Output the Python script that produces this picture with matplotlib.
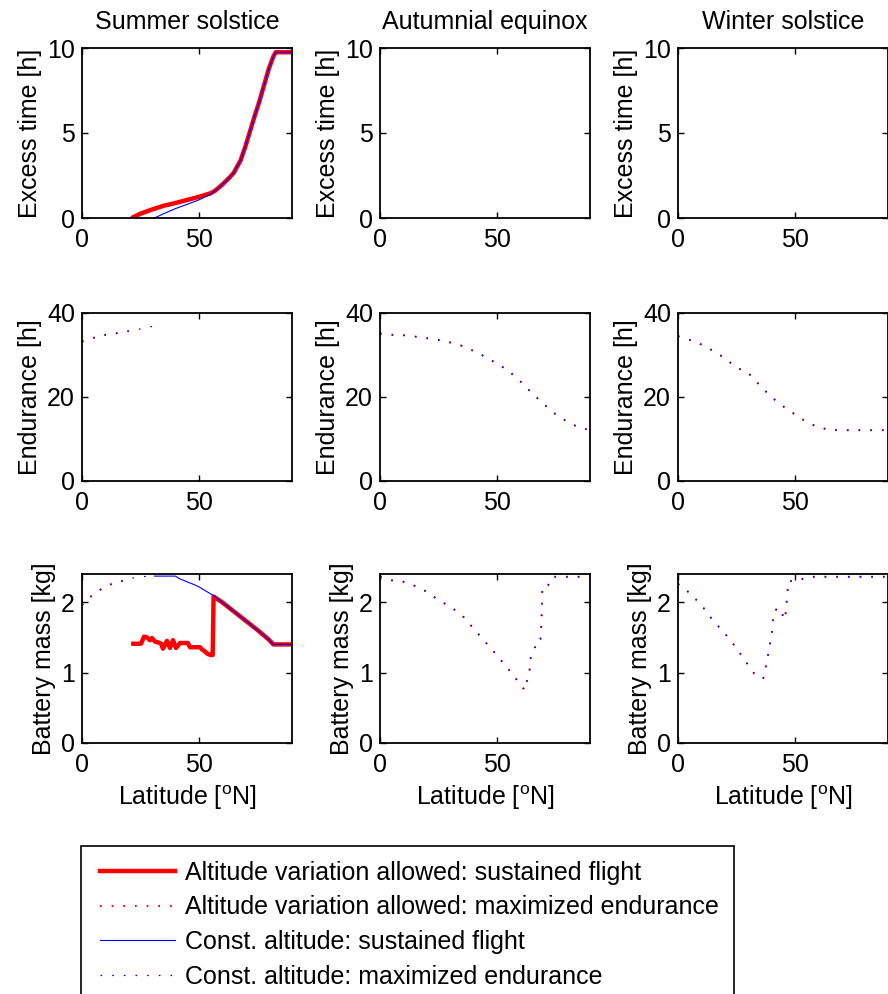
import numpy as np
import matplotlib
matplotlib.use("Agg")
import matplotlib.pyplot as plt
from matplotlib.legend_handler import HandlerLine2D

plt.rcParams['font.family'] = ['Liberation Sans', 'DejaVu Sans']
plt.rcParams['mathtext.fontset'] = 'custom'
plt.rcParams['mathtext.rm'] = 'Liberation Sans'

seasons = ["Summer solstice", "Autumnial equinox", "Winter solstice"]

# --- Summer solstice ---
sum_exc_alt_x = [22, 25, 30, 35, 40, 45, 50, 55, 57, 60, 63, 65, 68, 70, 72, 74, 76, 78, 80, 82, 83, 84, 90]
sum_exc_alt_y = [0.05, 0.25, 0.5, 0.72, 0.88, 1.06, 1.24, 1.45, 1.6, 1.95, 2.35, 2.65, 3.4, 4.2, 5.1, 6.0,
                 6.85, 7.8, 8.75, 9.5, 9.75, 9.75, 9.75]
sum_exc_const_x = [31, 35, 40, 45, 50, 55, 57, 60, 63, 65, 68, 70, 72, 74, 76, 78, 80, 82, 83, 84, 90]
sum_exc_const_y = [0.0, 0.25, 0.55, 0.8, 1.06, 1.38, 1.6, 1.95, 2.35, 2.65, 3.4, 4.2, 5.1, 6.0,
                   6.85, 7.8, 8.75, 9.5, 9.75, 9.75, 9.75]

sum_end_alt_x = [0, 5, 10, 15, 20]
sum_end_alt_y = [33.2, 34.1, 34.8, 35.2, 35.7]
sum_end_const_x = [0, 5, 10, 15, 20, 25, 30]
sum_end_const_y = [33.2, 34.1, 34.8, 35.2, 35.7, 36.2, 36.8]

sum_bat_alt_x = [22, 25.3, 26.6, 27.9, 29.1, 30, 31.3, 32.6, 33.9, 34.7, 36.4, 37.7, 39, 40.3, 42, 45.4,
                 46.3, 50.6, 51.4, 52.7, 53.6, 55, 56, 56.4, 60, 65, 70, 75, 80, 82, 90]
sum_bat_alt_y = [1.41, 1.41, 1.51, 1.50, 1.46, 1.49, 1.44, 1.43, 1.41, 1.34, 1.45, 1.35, 1.46, 1.35, 1.42,
                 1.42, 1.36, 1.36, 1.33, 1.30, 1.27, 1.25, 1.25, 2.08, 2.0, 1.87, 1.74, 1.61, 1.47, 1.40, 1.40]
sum_bat_const_x = [31, 40, 42, 45, 48, 50, 52, 55, 57, 60, 65, 70, 75, 80, 82, 90]
sum_bat_const_y = [2.37, 2.37, 2.33, 2.29, 2.25, 2.22, 2.18, 2.12, 2.08, 2.0, 1.87, 1.74, 1.61, 1.47, 1.40, 1.40]
sum_bat_end_alt_x = [0, 3, 7, 11, 15, 19, 21]
sum_bat_end_alt_y = [1.96, 2.06, 2.16, 2.24, 2.28, 2.32, 2.34]
sum_bat_end_const_x = [0, 3, 7, 11, 15, 19, 24, 30]
sum_bat_end_const_y = [1.96, 2.06, 2.16, 2.24, 2.28, 2.32, 2.36, 2.37]

# --- Autumnal equinox ---
aut_end_x = [0, 5, 10, 15, 20, 25, 30, 35, 40, 45, 50, 55, 60, 65, 70, 75, 80, 85, 90]
aut_end_y = [35.1, 34.8, 34.7, 34.4, 34.0, 33.6, 33.0, 32.2, 31.0, 29.6, 28.0, 26.3, 23.8, 21.0, 18.4,
             16.0, 14.2, 12.8, 12.1]
aut_bat_x = [0, 5, 10, 15, 20, 25, 30, 35, 40, 45, 50, 55, 60, 62, 63, 64.3, 64.6, 66.4, 68.6, 69.0, 69.2,
             69.4, 69.6, 72, 74, 90]
aut_bat_y = [2.36, 2.31, 2.29, 2.23, 2.15, 2.03, 1.94, 1.82, 1.63, 1.44, 1.25, 1.05, 0.84, 0.75, 0.88,
             1.07, 1.22, 1.36, 1.40, 1.58, 1.73, 1.95, 2.22, 2.24, 2.36, 2.36]

# --- Winter solstice ---
win_end_x = [0, 5, 10, 15, 20, 25, 30, 35, 40, 45, 50, 55, 60, 65, 70, 80, 90]
win_end_y = [34.5, 33.6, 32.5, 31.0, 29.3, 27.0, 25.8, 22.8, 20.0, 17.8, 15.9, 14.1, 12.8, 12.2, 12.1, 12.1, 12.1]
win_bat_x = [0, 5, 10, 15, 20, 25, 30, 33, 35, 36.5, 37.7, 38.6, 39.4, 40.2, 40.6, 41.6, 44.1, 45.4, 46,
             46.7, 47.3, 49.3, 52.3, 56.6, 90]
win_bat_y = [2.26, 2.13, 1.96, 1.74, 1.56, 1.35, 1.11, 0.97, 0.93, 0.92, 1.09, 1.25, 1.40, 1.56, 1.72,
             1.89, 1.91, 1.75, 1.80, 2.05, 2.30, 2.30, 2.32, 2.36, 2.36]

ylabels = ["Excess time [h]", "Endurance [h]", "Battery mass [kg]"]
ylims = [(0, 10), (0, 40), (0, 2.4)]
yticks = [[0, 5, 10], [0, 20, 40], [0, 1, 2]]

fig = plt.figure(figsize=(8.88, 9.94), dpi=100)
W, H = 888.0, 994.0
lefts = [82, 380, 678]
rows = [(48, 218), (313, 481), (574, 743)]

axes = [[None] * 3 for _ in range(3)]
for r, (top, bot) in enumerate(rows):
    for c, lx in enumerate(lefts):
        ax = fig.add_axes([lx / W, 1 - bot / H, 210 / W, (bot - top) / H])
        ax.set_xlim(0, 90)
        ax.set_ylim(*ylims[r])
        ax.set_xticks([0, 50])
        ax.set_yticks(yticks[r])
        ax.tick_params(direction='in', top=True, right=True, length=4, width=1,
                       labelsize=18, pad=5)
        ax.tick_params(axis='x', pad=7)
        for s in ax.spines.values():
            s.set_linewidth(1.3)
        ax.set_ylabel(ylabels[r], fontsize=18, labelpad=4)
        if r == 0:
            ax.set_title(seasons[c], fontsize=18, pad=14)
        if r == 2:
            ax.set_xlabel(r"Latitude [$^{\mathrm{o}}$N]", fontsize=18, labelpad=5)
        axes[r][c] = ax

red_dot = dict(color='red', lw=1.5, dashes=(0.8, 4.8))
blue_dot = dict(color='blue', lw=0.9, dashes=(1.33, 8.0))

# summer
ax = axes[0][0]
h1, = ax.plot(sum_exc_alt_x, sum_exc_alt_y, color='red', lw=3.2)
h3, = ax.plot(sum_exc_const_x, sum_exc_const_y, color='blue', lw=0.8)
ax = axes[1][0]
h2, = ax.plot(sum_end_alt_x, sum_end_alt_y, **red_dot)
h4, = ax.plot(sum_end_const_x, sum_end_const_y, **blue_dot)
ax = axes[2][0]
ax.plot(sum_bat_end_alt_x, sum_bat_end_alt_y, **red_dot)
ax.plot(sum_bat_end_const_x, sum_bat_end_const_y, **blue_dot)
ax.plot(sum_bat_alt_x, sum_bat_alt_y, color='red', lw=3.2)
ax.plot(sum_bat_const_x, sum_bat_const_y, color='blue', lw=0.8)

# autumn
axes[1][1].plot(aut_end_x, aut_end_y, **red_dot)
axes[1][1].plot(aut_end_x, aut_end_y, **blue_dot)
axes[2][1].plot(aut_bat_x, aut_bat_y, **red_dot)
axes[2][1].plot(aut_bat_x, aut_bat_y, **blue_dot)

# winter
axes[1][2].plot(win_end_x, win_end_y, **red_dot)
axes[1][2].plot(win_end_x, win_end_y, **blue_dot)
axes[2][2].plot(win_bat_x, win_bat_y, **red_dot)
axes[2][2].plot(win_bat_x, win_bat_y, **blue_dot)

labels = ["Altitude variation allowed: sustained flight",
          "Altitude variation allowed: maximized endurance",
          "Const. altitude: sustained flight",
          "Const. altitude: maximized endurance"]
hmap = {h: HandlerLine2D(xpad=0.16) for h in (h1, h2, h3, h4)}
leg = fig.legend([h1, h2, h3, h4], labels, loc='upper left',
                 bbox_to_anchor=(81 / W, 1 - 846 / H), borderaxespad=0,
                 fontsize=18, handlelength=3.16, handletextpad=0.4,
                 labelspacing=0.42, borderpad=0.6, fancybox=False,
                 edgecolor='black', framealpha=1, handler_map=hmap)
leg.get_frame().set_linewidth(1.2)

fig.savefig("out.png", dpi=100)
